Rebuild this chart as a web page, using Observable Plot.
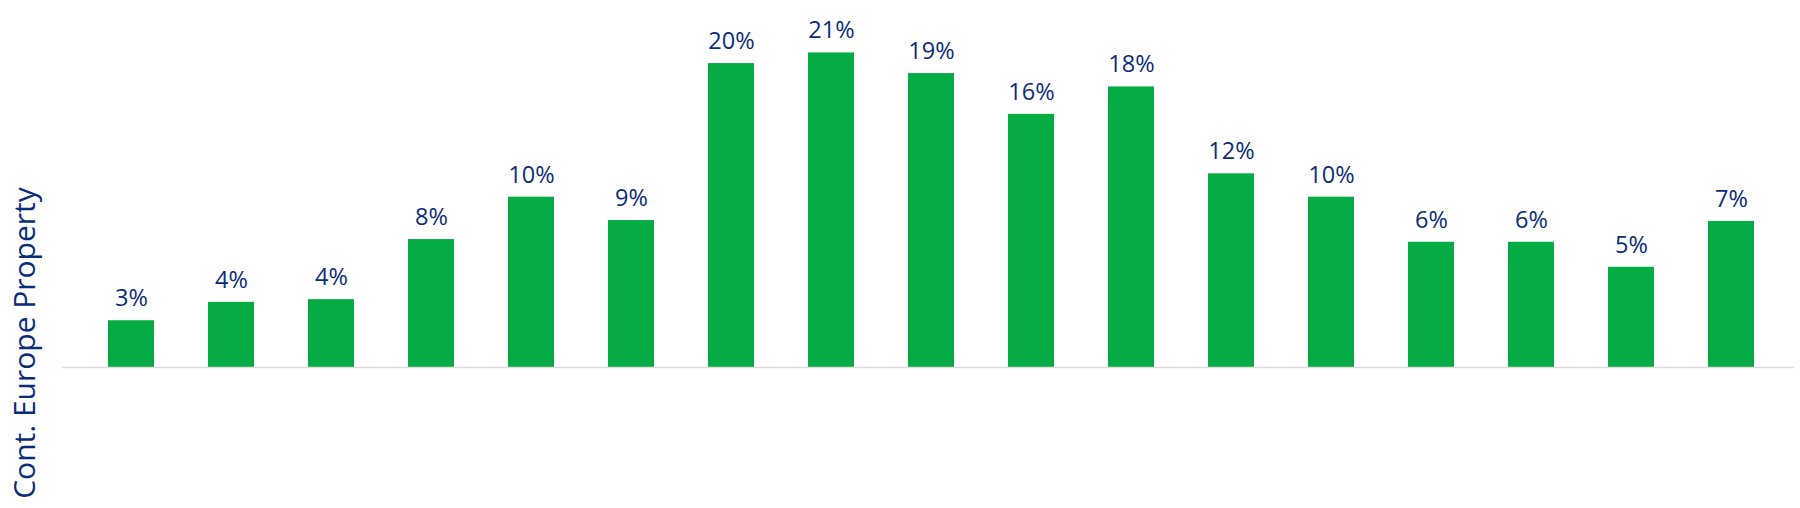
<!DOCTYPE html>
<html>
<head>
<meta charset="utf-8">
<script src="https://cdn.jsdelivr.net/npm/d3@7"></script>
<script src="https://cdn.jsdelivr.net/npm/@observablehq/plot@0.6"></script>
<style>
  html, body { margin: 0; padding: 0; background: #ffffff; }
  #chart { width: 1800px; height: 508px; }
</style>
</head>
<body>
<div id="chart"></div>
<script>
// Categories (no tick labels shown in the reference)
const categories = ["c1","c2","c3","c4","c5","c6","c7","c8","c9","c10","c11","c12","c13","c14","c15","c16","c17"];
// Bar heights (percent units)
const barValues = [3.12, 4.35, 4.53, 8.54, 11.37, 9.81, 20.29, 21.0, 19.62, 16.9, 18.73, 12.93, 11.37, 8.36, 8.36, 6.69, 9.75];
// Data labels printed above the bars
const labelValues = [3, 4, 4, 8, 10, 9, 20, 21, 19, 16, 18, 12, 10, 6, 6, 5, 7];
const rowLabel = "Cont. Europe Property";

const data = categories.map((c, i) => ({ category: c, value: barValues[i], label: labelValues[i] + "%" }));

const navy = "#0a2d78";
const green = "#04AC43";

const chart = Plot.plot({
  width: 1800,
  height: 508,
  marginLeft: 62,
  marginRight: 0,
  marginTop: 0,
  marginBottom: 141,
  style: { fontFamily: "'Open Sans', sans-serif", background: "#ffffff", overflow: "visible" },
  x: { domain: categories, paddingInner: 0.5406, paddingOuter: 0.447, axis: null },
  y: { domain: [0, 24.5], axis: null },
  marks: [
    Plot.barY(data, { x: "category", y: "value", fill: green }),
    Plot.ruleY([0], { stroke: "#dcdcdc", strokeWidth: 1.5, insetRight: 6 }),
    Plot.text(data, { x: "category", y: "value", text: "label", dy: -22, fill: navy, fontSize: 23.5 }),
    Plot.text([rowLabel], { frameAnchor: "left", text: d => d, rotate: -90, dx: -37, dy: 159, fontSize: 30, fill: navy, textAnchor: "middle" })
  ]
});
document.getElementById("chart").appendChild(chart);
</script>
</body>
</html>
